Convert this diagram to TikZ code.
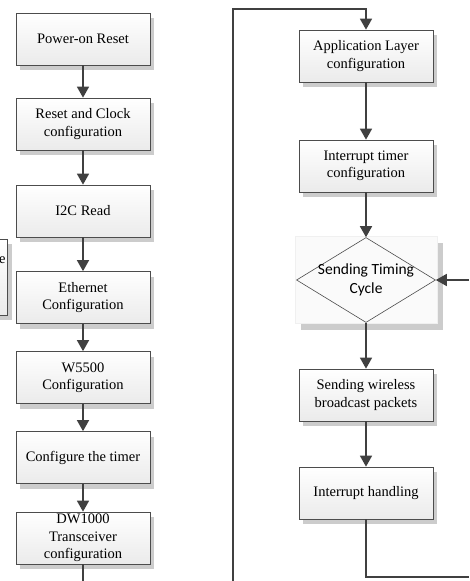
\documentclass[tikz,border=0pt]{standalone}
\usepackage{fontspec}
\setmainfont{Liberation Serif}
\newfontfamily\calibrifont{Carlito}
\usetikzlibrary{arrows.meta,shapes.geometric,shadows}

\begin{document}
\begin{tikzpicture}[
    font=\fontsize{14.5}{17.5}\selectfont,
    procbox/.style={draw=gray!60!black, line width=0.7pt, rectangle, align=center,
        minimum width=134pt, minimum height=52pt, inner sep=3pt,
        top color=white, bottom color=gray!16,
        general shadow={fill=gray!40, shadow xshift=4pt, shadow yshift=-5pt}},
    decback/.style={draw=gray!12, line width=0.4pt, fill=gray!4, rectangle,
        minimum width=142pt, minimum height=87pt,
        general shadow={fill=gray!40, shadow xshift=6pt, shadow yshift=-6pt}},
    decbox/.style={draw=gray!60!black, line width=0.6pt, diamond, aspect=1.64,
        minimum width=139pt, minimum height=85pt, inner sep=-3pt, align=center,
        font=\calibrifont\fontsize{15.5}{19}\selectfont},
    flow/.style={draw=black!75, line width=1.6pt, -{Triangle[length=11pt,width=12pt]}},
    plain/.style={draw=black!75, line width=1.6pt}
]
    \useasboundingbox (0,0) rectangle (469pt,-581pt);
    \clip (0,0) rectangle (469pt,-581pt);

    % left column
    \node (pwr) [procbox] at (83pt,-39pt) {Power-on Reset};
    \node (rst) [procbox, below of=pwr, node distance=85pt] {Reset and Clock\\configuration};
    \node (i2c) [procbox, below of=rst, node distance=87pt] {I2C Read};
    \node (eth) [procbox, below of=i2c, node distance=86.5pt] {Ethernet\\Configuration};
    \node (w55) [procbox, below of=eth, node distance=80pt] {W5500\\Configuration};
    \node (tmr) [procbox, below of=w55, node distance=80pt] {Configure the timer};
    \node (dw) [procbox, inner ysep=1pt, below of=tmr, node distance=80.5pt] {DW1000\\Transceiver\\configuration};
    \node (side) [procbox, anchor=north east, minimum width=80pt, minimum height=76pt, inner xsep=2pt, text width=76pt, align=right] at (8pt,-239pt) {e\\\mbox{}\\\mbox{}};

    % right column
    \node (app) [procbox] at (366pt,-56pt) {Application Layer\\configuration};
    \node (irq) [procbox, below of=app, node distance=110pt] {Interrupt timer\\configuration};
    \node (diaback) [decback, below of=irq, node distance=114pt] {};
    \node (dia) [decbox] at (diaback.center) {Sending Timing\\Cycle};
    \node (send) [procbox, below of=diaback, node distance=115pt] {Sending wireless\\broadcast packets};
    \node (hdl) [procbox, below of=send, node distance=98pt] {Interrupt handling};

    \coordinate (dwout) at (83pt,-581pt);
    \coordinate (lbot) at (233pt,-581pt);
    \coordinate (ltop) at (233pt,-9pt);
    \coordinate (rin) at (469pt,-280pt);
    \coordinate (rbot) at (469pt,-577pt);

    \draw[flow] (pwr) -- (rst);
    \draw[flow] (rst) -- (i2c);
    \draw[flow] (i2c) -- (eth);
    \draw[flow] (eth) -- (w55);
    \draw[flow] (w55) -- (tmr);
    \draw[flow] (tmr) -- (dw);
    \draw[plain] (dw) -- (dwout);

    \draw[flow] (lbot) -- (ltop) -| (app);
    \draw[flow] (app) -- (irq);
    \draw[flow] (irq) -- (dia);
    \draw[flow] (rin) -- (dia);
    \draw[flow] (dia) -- (send);
    \draw[flow] (send) -- (hdl);
    \draw[plain] (hdl) |- (rbot);
\end{tikzpicture}
\end{document}
